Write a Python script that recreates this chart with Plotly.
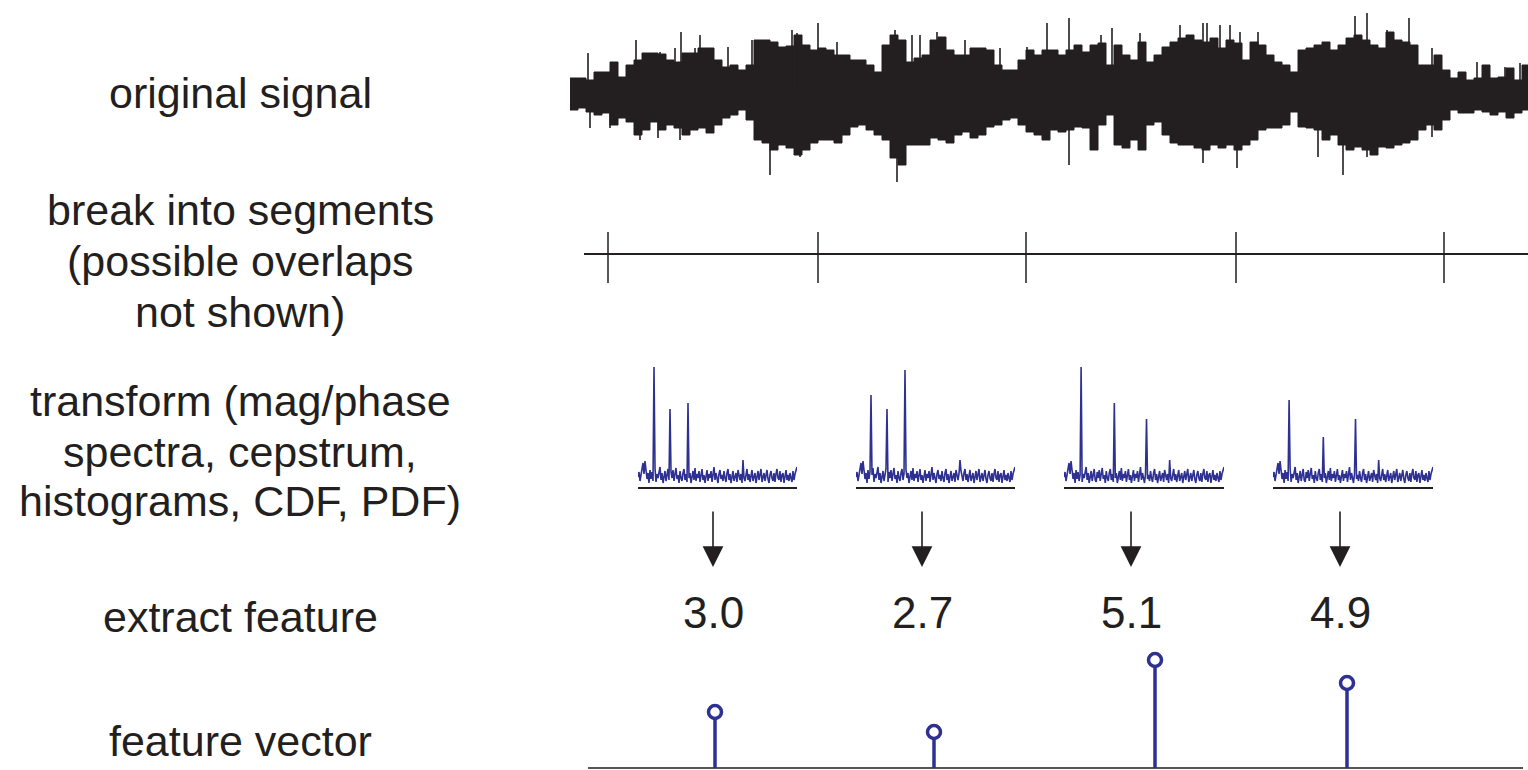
import numpy as np
import plotly.graph_objects as go

W, H = 1528, 770


def fx(p):
    return p / W


def fy(p):
    return 1 - p / H


# ---------------- data ----------------
row_labels = [
    ["original signal"],
    ["break into segments", "(possible overlaps", "not shown)"],
    ["transform (mag/phase", "spectra, cepstrum,", "histograms, CDF, PDF)"],
    ["extract feature"],
    ["feature vector"],
]

# signal envelope (amplitude) sampled every 8 samples
sample_step = 8
signal_upper = [16, 16, 14, 22, 22, 32, 17, 29, 34, 41, 41, 40, 34, 32, 41, 41, 46, 46, 34, 27,
                29, 24, 29, 54, 54, 52, 47, 48, 59, 49, 44, 46, 44, 39, 39, 34, 34, 29, 22, 49,
                59, 54, 32, 36, 39, 54, 57, 44, 39, 39, 46, 46, 44, 29, 24, 24, 34, 44, 39, 44,
                44, 39, 44, 49, 42, 49, 51, 29, 49, 39, 34, 52, 32, 39, 47, 52, 56, 59, 54, 52,
                56, 46, 54, 51, 34, 52, 49, 39, 32, 29, 22, 44, 46, 49, 52, 44, 49, 56, 59, 54,
                49, 46, 62, 54, 52, 49, 29, 29, 39, 24, 16, 22, 14, 16, 29, 16, 17, 26, 14, 29, 31]
signal_lower = [-16, -14, -18, -21, -19, -31, -24, -28, -41, -36, -28, -36, -31, -34, -41, -36, -34, -39, -31, -24,
                -21, -16, -26, -46, -49, -56, -51, -54, -61, -56, -49, -46, -46, -49, -41, -33, -31, -36, -41, -46,
                -64, -71, -51, -51, -51, -44, -46, -49, -41, -38, -44, -41, -33, -31, -26, -24, -31, -38, -41, -46,
                -36, -38, -36, -33, -34, -56, -31, -21, -51, -54, -46, -56, -31, -28, -41, -49, -51, -51, -54, -56,
                -51, -54, -51, -56, -51, -46, -36, -34, -34, -31, -18, -33, -34, -36, -46, -41, -51, -56, -53, -56,
                -61, -53, -54, -51, -49, -46, -36, -31, -36, -26, -16, -19, -19, -16, -18, -21, -18, -24, -19, -16, -16]
spike_up_pos = [18, 66, 90, 105, 111, 125, 130, 158, 182, 222, 227, 248, 267, 325, 342, 350, 367, 395,
                430, 457, 477, 499, 531, 542, 570, 610, 633, 637, 650, 660, 670, 688, 785, 797, 817,
                839, 862, 907, 935, 950]
spike_up_amp = [41, 54, 42, 46, 62, 46, 59, 47, 54, 64, 61, 71, 52, 64, 59, 59, 62, 54,
                46, 47, 71, 76, 59, 66, 61, 69, 71, 71, 69, 69, 62, 62, 78, 81, 64,
                76, 46, 32, 27, 31]
spike_down_pos = [20, 40, 70, 88, 110, 200, 230, 327, 499, 633, 667, 748, 773, 797, 862]
spike_down_amp = [-34, -34, -46, -44, -46, -81, -63, -88, -71, -69, -74, -63, -81, -63, -43]

segment_bounds = [38, 248, 456, 666, 874]

noise_floor = [10, 15, 6, 12, 19, 24, 13, 26, 17, 8, 14, 4, 17, 8, 15, 6, 12, 19, 5, 13,
               9, 17, 20, 7, 14, 4, 12, 16, 6, 13, 18, 7, 5, 15, 9, 17, 6, 13, 19, 8,
               12, 4, 16, 9, 6, 14, 18, 7, 13, 5, 17, 9, 14, 4, 12, 16, 7, 19, 6, 13,
               9, 16, 5, 13, 18, 7, 12, 4, 14, 17, 6, 13, 9, 16, 5, 12, 20, 7, 14, 9,
               4, 13, 17, 8, 12, 6, 16, 9, 5, 14, 18, 7, 13, 4, 12, 16, 6, 9, 14, 5,
               17, 12, 7, 13, 4, 16, 9, 6, 14, 18, 7, 13, 5, 12, 17, 6, 9, 14, 4, 13,
               16, 7, 12, 18, 5, 9, 14, 6, 13, 17, 8, 4, 12, 16, 9, 6, 14, 5, 13, 18,
               9, 7, 16, 5, 12, 14, 4, 13, 17, 7, 12, 6, 14, 9, 5, 16, 7, 13, 18, 20]
peak_bins = [[16, 32, 50, 105], [15, 31, 49, 104], [17, 50, 82, 105], [16, 50, 82, 105]]
peak_heights = [[120, 78, 84, 27], [92, 78, 117, 27], [120, 84, 68, 27], [87, 50, 68, 27]]

feature_values = [3.0, 2.7, 5.1, 4.9]
stem_positions = [145, 364, 585, 777]
stem_heights = [2.8, 1.8, 5.4, 4.25]

# ---------------- styling ----------------
INK = "#231F20"
BLUE = "#2E3192"
FONT = "Liberation Sans, Arial, Helvetica, sans-serif"

fig = go.Figure()

# ---- original signal ----
sig_x = np.arange(len(signal_upper)) * sample_step
for env in (signal_upper, signal_lower):
    fig.add_trace(go.Scatter(x=sig_x, y=env, mode="lines", line=dict(color=INK, width=1, shape="hv"),
                             fill="tozeroy", fillcolor=INK, xaxis="x", yaxis="y", hoverinfo="skip"))
sx, sy = [], []
for p, a in zip(spike_up_pos + spike_down_pos, spike_up_amp + spike_down_amp):
    sx += [p, p, None]
    sy += [0, a, None]
fig.add_trace(go.Scatter(x=sx, y=sy, mode="lines", line=dict(color=INK, width=1.6),
                         xaxis="x", yaxis="y", hoverinfo="skip"))

# ---- segments ----
fig.add_trace(go.Scatter(x=[14, 958], y=[0, 0], mode="lines", line=dict(color=INK, width=2),
                         xaxis="x", yaxis="y2", hoverinfo="skip"))
tx, ty = [], []
for b in segment_bounds:
    tx += [b, b, None]
    ty += [22, -29, None]
fig.add_trace(go.Scatter(x=tx, y=ty, mode="lines", line=dict(color=INK, width=1.5),
                         xaxis="x", yaxis="y2", hoverinfo="skip"))

# ---- spectra ----
spec_px = [(638, 797), (856, 1015), (1064, 1224), (1273, 1433)]
for i in range(4):
    spec = list(noise_floor)
    for b, h in zip(peak_bins[i], peak_heights[i]):
        spec[b] = h
    fig.add_trace(go.Scatter(x=np.arange(len(spec)), y=spec, mode="lines",
                             line=dict(color=BLUE, width=1.6),
                             xaxis=f"x{i + 3}", yaxis=f"y{i + 3}", hoverinfo="skip"))

# ---- feature vector stems ----
fig.add_trace(go.Scatter(x=[18, 953], y=[0, 0], mode="lines", line=dict(color="#555555", width=2),
                         xaxis="x", yaxis="y7", hoverinfo="skip"))
stx, sty = [], []
for p, h in zip(stem_positions, stem_heights):
    stx += [p, p, None]
    sty += [0, h, None]
fig.add_trace(go.Scatter(x=stx, y=sty, mode="lines", line=dict(color=BLUE, width=3.5),
                         xaxis="x", yaxis="y7", hoverinfo="skip"))
fig.add_trace(go.Scatter(x=stem_positions, y=stem_heights, mode="markers",
                         marker=dict(symbol="circle", size=13, color="white",
                                     line=dict(color=BLUE, width=3.5)),
                         xaxis="x", yaxis="y7", cliponaxis=False, hoverinfo="skip"))

# ---------------- layout ----------------
hidden = dict(visible=False, showgrid=False, zeroline=False, fixedrange=True)
layout = dict(
    width=W, height=H, margin=dict(l=0, r=0, t=0, b=0),
    paper_bgcolor="white", plot_bgcolor="rgba(0,0,0,0)", showlegend=False,
    xaxis=dict(domain=[fx(570), 1], range=[0, 958], **hidden),
    yaxis=dict(domain=[fy(190), 1], range=[-96, 94], anchor="x", **hidden),
    yaxis2=dict(domain=[fy(304), fy(204)], range=[-50, 50], anchor="x", **hidden),
    yaxis7=dict(domain=[0, fy(640)], range=[-0.1, 6.4], anchor="x", **hidden),
)
for i, (a, b) in enumerate(spec_px):
    n = i + 3
    layout[f"xaxis{n}"] = dict(domain=[fx(a), fx(b)], range=[0, len(noise_floor) - 1], anchor=f"y{n}",
                               showline=True, linecolor=INK, linewidth=1.5, showticklabels=False,
                               ticks="", showgrid=False, zeroline=False, fixedrange=True)
    layout[f"yaxis{n}"] = dict(domain=[fy(487), fy(360)], range=[0, 127], anchor=f"x{n}", **hidden)
fig.update_layout(**layout)

# ---------------- text ----------------
label_y = [[93], [210, 261, 312], [401, 452, 501], [617], [741]]
anns = []
for lines, ys in zip(row_labels, label_y):
    for t, yy in zip(lines, ys):
        anns.append(dict(text=t, x=fx(240), y=fy(yy), xref="paper", yref="paper",
                         xanchor="center", yanchor="middle", showarrow=False,
                         font=dict(family=FONT, size=43, color=INK)))

centers = [(segment_bounds[i] + segment_bounds[i + 1]) / 2 for i in range(len(segment_bounds) - 1)]
for c, v in zip(centers, feature_values):
    anns.append(dict(text="", x=c, y=fy(567), xref="x", yref="paper", showarrow=True,
                     ax=0, ay=-57, arrowhead=2, arrowsize=2.6, arrowwidth=1.6, arrowcolor=INK,
                     standoff=0))
    anns.append(dict(text=f"{v:.1f}", x=c, y=fy(612), xref="x", yref="paper",
                     xanchor="center", yanchor="middle", showarrow=False,
                     font=dict(family=FONT, size=44, color=INK)))
fig.update_layout(annotations=anns)

fig.write_html("out.html", config={"displayModeBar": False},
               post_script="document.body.style.margin='0px';")
